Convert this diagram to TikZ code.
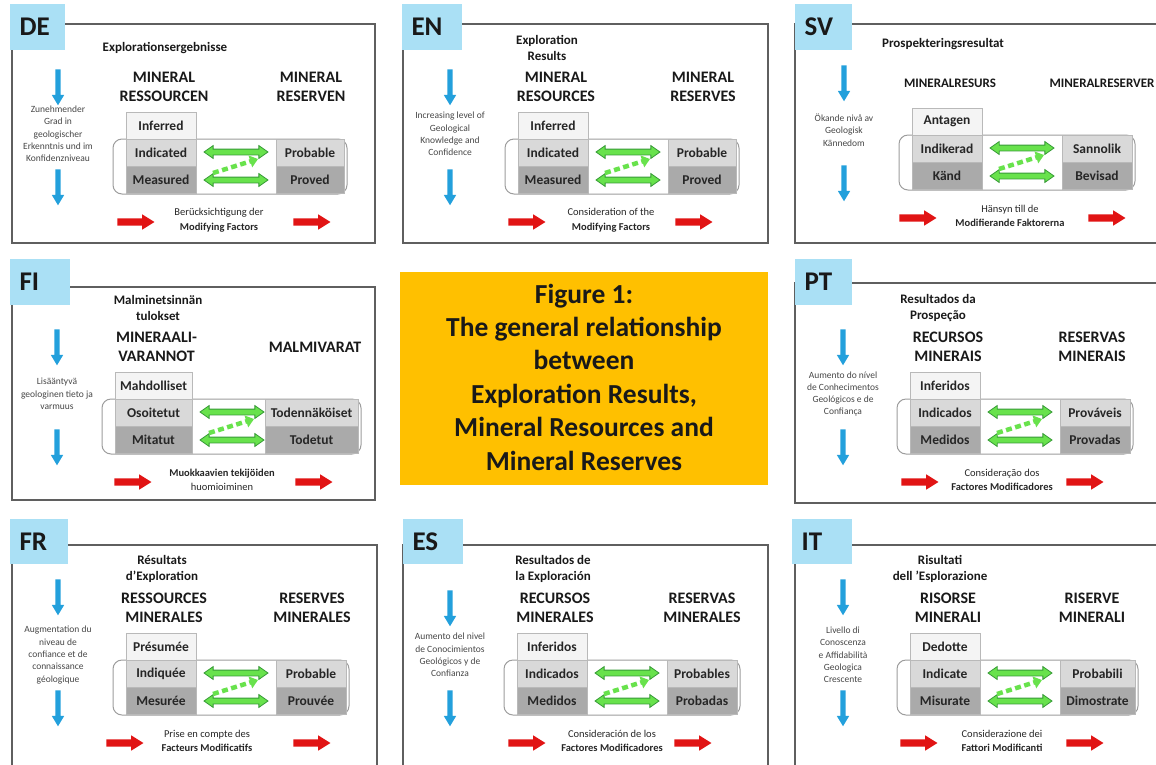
\documentclass[tikz,border=0pt]{standalone}
\usepackage{fontspec}
\setmainfont{Carlito}
\usetikzlibrary{positioning,shapes.arrows,arrows.meta}

\definecolor{lblblue}{RGB}{170,224,245}
\definecolor{framegray}{RGB}{95,95,95}
\definecolor{cellline}{RGB}{185,185,185}
\definecolor{infc}{RGB}{244,244,244}
\definecolor{indc}{RGB}{217,217,217}
\definecolor{meac}{RGB}{170,170,170}
\definecolor{grnfill}{RGB}{104,226,76}
\definecolor{grnline}{RGB}{55,155,55}
\definecolor{redarr}{RGB}{225,20,20}
\definecolor{bluearr}{RGB}{35,160,220}
\definecolor{figyellow}{RGB}{255,192,0}
\definecolor{sidegray}{RGB}{70,70,70}

% panel texts and offsets
\pgfkeys{
  /pnl/.cd,
  code/.store in=\pcode, title/.store in=\ptitle,
  res/.store in=\pres, resv/.store in=\presv, side/.store in=\pside,
  inf/.store in=\pinf, ind/.store in=\pind, mea/.store in=\pmea,
  prb/.store in=\pprb, prv/.store in=\pprv, mf/.store in=\pmf,
  wl/.store in=\pwl, wr/.store in=\pwr, hf/.store in=\phf,
  tx/.store in=\ptx, rx/.store in=\prx, bx/.store in=\pbx, bt/.store in=\pbt,
  rl/.store in=\prl, rr/.store in=\prr, mx/.store in=\pmx,
  defaults/.style={/pnl/wl=70, /pnl/wr=68, /pnl/hf=16, /pnl/tx=35, /pnl/rx=185,
    /pnl/bx=-68, /pnl/bt=-27, /pnl/rl=6, /pnl/rr=175, /pnl/mx=93}
}

\newcommand\drawpanel[3]{%
  \pgfkeys{/pnl/.cd,defaults,#3}%
  \pgfmathsetmacro\pband{150+\pwr+3}%
  \pgfmathsetmacro\pgx{\pwl+40}%
  \begin{scope}[shift={(#1,#2)}]
    \draw[band] (-13,27) rectangle (\pband,82);
    % resources column
    \node[cell, fill=infc, minimum width=\pwl, anchor=north west] (\pcode-inf) at (0,0) {\pinf};
    \node[cell, fill=indc, minimum width=\pwl, below=0pt of \pcode-inf] (\pcode-ind) {\pind};
    \node[cell, fill=meac, minimum width=\pwl, below=0pt of \pcode-ind] (\pcode-mea) {\pmea};
    % reserves column
    \node[cell, fill=indc, minimum width=\pwr, anchor=north west] (\pcode-prb) at (150,27) {\pprb};
    \node[cell, fill=meac, minimum width=\pwr, below=0pt of \pcode-prb] (\pcode-prv) {\pprv};
    \node[greenarrow] (\pcode-g1) at (\pgx,40) {\rule{0pt}{5pt}};
    \node[greenarrow] (\pcode-g2) at (\pgx,68) {\rule{0pt}{5pt}};
    \draw[dasharrow] (\pgx-23,61) -- (\pgx+22,47);
    % headings
    \node[ttl] (\pcode-ttl) at (\ptx,-64) {\ptitle};
    \node[hdr] (\pcode-res) at (\pwl/2+3,-25) {\pres};
    \node[hdr] (\pcode-resv) at (\prx,-25) {\presv};
    % confidence
    \node[bluearrow] (\pcode-b1) at (\pbx,\pbt) {\rule{0pt}{5pt}};
    \node[bluearrow] (\pcode-b2) at (\pbx,73) {\rule{0pt}{5pt}};
    \node[sidetxt] (\pcode-side) at (\pbx,22) {\pside};
    % modifying factors
    \node[redarrow] (\pcode-r1) at (\prl,110) {\rule{0pt}{7pt}};
    \node[redarrow] (\pcode-r2) at (\prr,110) {\rule{0pt}{7pt}};
    \node[mftxt] (\pcode-mf) at (\pmx,108) {\pmf};
  \end{scope}}

\begin{document}
\begin{tikzpicture}[x=1pt, y=-1pt,
    cell/.style={draw=cellline, line width=0.8pt, minimum height=27pt, inner sep=0pt,
      outer sep=0pt, font=\bfseries\fontsize{13.5}{15}\selectfont, text=black!85},
    band/.style={draw=cellline!85!black, line width=1pt, rounded corners=9pt, fill=white},
    hdr/.style={font=\bfseries\fontsize{\phf}{19}\selectfont, align=center, text=black!90},
    ttl/.style={font=\bfseries\fontsize{13}{16.5}\selectfont, align=center, text=black!90},
    sidetxt/.style={font=\fontsize{9.5}{12.3}\selectfont, align=center, text=sidegray},
    mftxt/.style={font=\fontsize{10.5}{14.5}\selectfont, align=center, text=black!85},
    greenarrow/.style={shape=double arrow, draw=grnline, fill=grnfill, line width=0.8pt,
      minimum height=64pt, double arrow head extend=3.5pt,
      double arrow tip angle=70, inner sep=0pt},
    redarrow/.style={shape=single arrow, fill=redarr, minimum height=37pt,
      single arrow head extend=4pt, single arrow tip angle=64, inner sep=0pt},
    bluearrow/.style={shape=single arrow, fill=bluearr, minimum height=36pt,
      single arrow head extend=3.5pt, single arrow tip angle=62, inner sep=0pt, rotate=-90},
    dasharrow/.style={draw=grnfill, line width=4.5pt, dash pattern=on 6pt off 3.5pt,
      -{Triangle[length=8pt,width=12pt]}},
    panelframe/.style={draw=framegray, line width=1.4pt},
    codebox/.style={fill=lblblue},
    codetxt/.style={font=\bfseries\fontsize{27}{30}\selectfont, anchor=west, text=black!90}]
  \useasboundingbox (0,0) rectangle (1156,764);
  \clip (0,0) rectangle (1156,764);
  % frames and language tags
  \foreach \fx/\fy/\gx/\gy/\lx/\ly/\mx/\my/\lang in {
      12/24/375/243/10/4/65/50/DE, 403/24/768/243/402/4/462/50/EN,
      795/24/1160/243/795/4/852/50/SV, 12/287/375/500/10/259/70/305/FI,
      795/283/1160/503/795/259/852/305/PT, 12/545/377/780/10/519/68/564/FR,
      403/545/768/780/403/519/463/564/ES, 795/545/1160/780/792/519/852/564/IT} {
    \draw[panelframe] (\fx,\fy) rectangle (\gx,\gy);
    \fill[codebox] (\lx,\ly) rectangle (\mx,\my);
    \node[codetxt] (tag-\lang) at (\lx+6,\ly/2+\my/2) {\lang};
  }
  % centre caption
  \fill[figyellow] (400,272) rectangle (768,485);
  \node[font=\bfseries\fontsize{27.5}{33.4}\selectfont, align=center, text=black!90] (fig)
    at (584,377) {Figure 1:\\The general relationship\\between\\Exploration Results,\\Mineral Resources and\\Mineral Reserves};
  % panels
  \drawpanel{126}{112}{code=DE, title=Explorationsergebnisse, tx=39,
    res={MINERAL\\RESSOURCEN}, resv={MINERAL\\RESERVEN},
    side={Zunehmender\\Grad in\\geologischer\\Erkenntnis und im\\Konfidenzniveau},
    inf=Inferred, ind=Indicated, mea=Measured, prb=Probable, prv=Proved,
    mf={Berücksichtigung der\\\textbf{Modifying Factors}}, rl=7, rr=183}
  \drawpanel{518}{112}{code=EN, title={Exploration\\Results}, tx=29,
    res={MINERAL\\RESOURCES}, resv={MINERAL\\RESERVES},
    side={Increasing level of\\Geological\\Knowledge and\\Confidence},
    inf=Inferred, ind=Indicated, mea=Measured, prb=Probable, prv=Proved,
    mf={Consideration of the\\\textbf{Modifying Factors}}, rr=173}
  \drawpanel{912}{108}{code=SV, title=Prospekteringsresultat, tx=31,
    res=MINERALRESURS, resv=MINERALRESERVER, rx=190, hf=13,
    side={Ökande nivå av\\Geologisk\\Kännedom},
    inf=Antagen, ind=Indikerad, mea=Känd, prb=Sannolik, prv=Bevisad, wr=70,
    mf={Hänsyn till de\\\textbf{Modifierande Faktorerna}}, rl=3, rr=192, mx=98}
  \drawpanel{115}{372}{code=FI, title={Malminetsinnän\\tulokset}, tx=43,
    res={MINERAALI-\\VARANNOT}, resv=MALMIVARAT, rx=200,
    side={Lisääntyvä\\geologinen tieto ja\\varmuus},
    inf=Mahdolliset, ind=Osoitetut, mea=Mitatut, prb=Todennäköiset, prv=Todetut,
    wl=77, wr=93, bx=-58, rl=15, rr=196, mx=107,
    mf={\textbf{Muokkaavien tekijöiden}\\huomioiminen}}
  \drawpanel{910}{372}{code=PT, title={Resultados da\\Prospeção}, tx=28,
    res={RECURSOS\\MINERAIS}, resv={RESERVAS\\MINERAIS}, rx=182,
    side={Aumento do nível\\de Conhecimentos\\Geológicos e de\\Confiança},
    inf=Inferidos, ind=Indicados, mea=Medidos, prb=Prováveis, prv=Provadas, wr=70,
    mf={Consideração dos\\\textbf{Factores Modificadores}}, rl=7, rr=172, mx=92, bx=-67}
  \drawpanel{126}{633}{code=FR, title={Résultats\\d'Exploration}, tx=36,
    res={RESSOURCES\\MINERALES}, resv={RESERVES\\MINERALES}, rx=186,
    side={Augmentation du\\niveau de\\confiance et de\\connaissance\\géologique},
    inf=Présumée, ind=Indiquée, mea=Mesurée, prb=Probable, prv=Prouvée, wr=70,
    mf={Prise en compte des\\\textbf{Facteurs Modificatifs}}, rl=-4, rr=183, mx=81, bt=-38}
  \drawpanel{517}{633}{code=ES, title={Resultados de\\la Exploración}, tx=36,
    res={RECURSOS\\MINERALES}, resv={RESERVAS\\MINERALES},
    side={Aumento del nivel\\de Conocimientos\\Geológicos y de\\Confianza},
    inf=Inferidos, ind=Indicados, mea=Medidos, prb=Probables, prv=Probadas, wr=70,
    mf={Consideración de los\\\textbf{Factores Modificadores}}, rl=7, rr=173, mx=95, bx=-67}
  \drawpanel{910}{633}{code=IT, title={Risultati\\dell 'Esplorazione}, tx=30,
    res={RISORSE\\MINERALI}, resv={RISERVE\\MINERALI}, rx=182,
    side={Livello di\\Conoscenza\\e Affidabilità\\Geologica\\Crescente},
    inf=Dedotte, ind=Indicate, mea=Misurate, prb=Probabili, prv=Dimostrate, wr=75,
    mf={Considerazione dei\\\textbf{Fattori Modificanti}}, rl=6, rr=172, mx=92, bx=-67, bt=-38}
\end{tikzpicture}
\end{document}
